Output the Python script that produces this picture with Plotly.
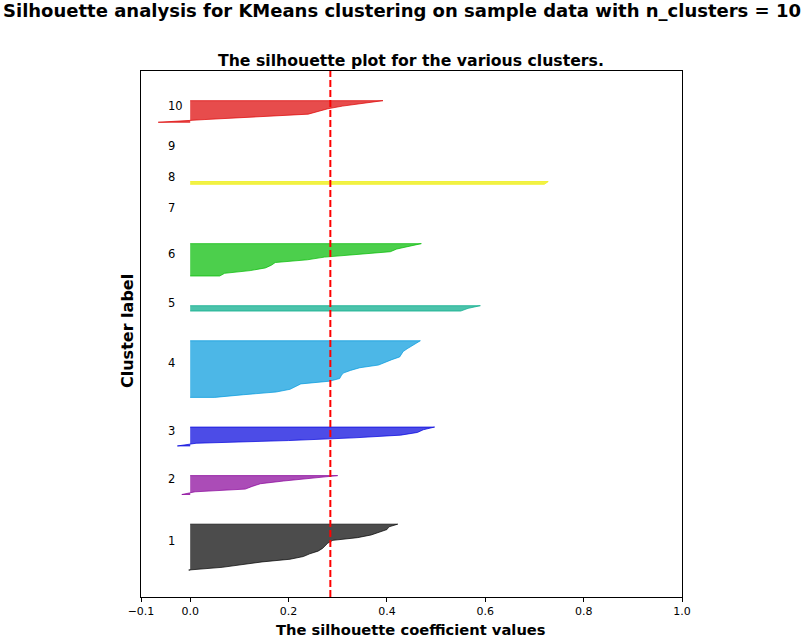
import plotly.graph_objects as go

# ---------------- data ----------------
cluster_labels = ["1", "2", "3", "4", "5", "6", "7", "8", "9", "10"]

sil_c1 = [-0.003, 0.065, 0.108, 0.146, 0.203, 0.23, 0.243, 0.26, 0.269, 0.274,
          0.28, 0.29, 0.34, 0.368, 0.385, 0.40, 0.404, 0.422]
sil_c2 = [-0.017, 0.01, 0.112, 0.126, 0.143, 0.19, 0.24, 0.30]
sil_c3 = [-0.026, 0.012, 0.20, 0.333, 0.428, 0.462, 0.474, 0.497]
sil_c4 = [0.05, 0.109, 0.175, 0.203, 0.214, 0.225, 0.283, 0.304, 0.307, 0.311,
          0.326, 0.345, 0.383, 0.396, 0.41, 0.426, 0.429, 0.433, 0.441, 0.451,
          0.461, 0.468]
sil_c5 = [0.55, 0.565, 0.59]
sil_c6 = [0.06, 0.07, 0.122, 0.153, 0.165, 0.173, 0.238, 0.273, 0.337, 0.407,
          0.42, 0.442, 0.47]
sil_c7 = [0.0]
sil_c8 = [0.72, 0.728]
sil_c9 = [0.0]
sil_c10 = [-0.065, 0.03, 0.135, 0.24, 0.26, 0.28, 0.31, 0.35, 0.392]

silhouette_avg = 0.285

x_tick_vals = [-0.1, 0.0, 0.2, 0.4, 0.6, 0.8, 1.0]
x_tick_text = ["\u22120.1", "0.0", "0.2", "0.4", "0.6", "0.8", "1.0"]

# nipy_spectral colours at i / n_clusters
cluster_colors = [
    (0.0, 0.0, 0.0),
    (0.5333, 0.0, 0.6),
    (0.0, 0.0, 0.8667),
    (0.0, 0.6, 0.8667),
    (0.0, 0.6667, 0.5333),
    (0.0, 0.7333, 0.0),
    (0.0, 1.0, 0.0),
    (0.9333, 0.9333, 0.0),
    (1.0, 0.6, 0.0),
    (0.8667, 0.0, 0.0),
]

all_sil = [sil_c1, sil_c2, sil_c3, sil_c4, sil_c5, sil_c6, sil_c7, sil_c8, sil_c9, sil_c10]

FONT = "DejaVu Sans"

def rgba(c, a):
    return "rgba(%d,%d,%d,%.2f)" % (round(c[0] * 255), round(c[1] * 255), round(c[2] * 255), a)

fig = go.Figure()

n_samples = sum(len(s) for s in all_sil)
n_clusters = len(all_sil)
y_lower = 10
label_pos = []
for i, vals in enumerate(all_sil):
    size = len(vals)
    ys = list(range(y_lower, y_lower + size))
    px = [0.0] + list(vals) + [0.0]
    py = [ys[0]] + ys + [ys[-1]]
    col = cluster_colors[i]
    fig.add_trace(go.Scatter(
        x=px, y=py, mode="lines", fill="toself",
        fillcolor=rgba(col, 0.7),
        line=dict(color=rgba(col, 0.7), width=1),
        hoverinfo="skip", showlegend=False,
    ))
    label_pos.append(y_lower + 0.5 * size)
    y_lower = y_lower + size + 10

for lab, yp in zip(cluster_labels, label_pos):
    fig.add_annotation(x=-0.05, y=yp, xref="x", yref="y", text=lab,
                       showarrow=False, xanchor="left", yanchor="middle",
                       yshift=4.5, font=dict(family=FONT, size=11.5, color="black"))

fig.add_shape(type="line", xref="x", yref="paper",
              x0=silhouette_avg, x1=silhouette_avg, y0=0, y1=1,
              line=dict(color="red", width=2, dash="7px,3px"))

# plot area in page pixels: x 141..682, y 71..597
PH = 526.0
PW = 541.0

fig.add_annotation(xref="paper", yref="paper", x=(402 - 141) / PW, y=1 + (71 - 11) / PH,
                   text="<b>Silhouette analysis for KMeans clustering on sample data with n_clusters = 10</b>",
                   showarrow=False, xanchor="center", yanchor="middle",
                   font=dict(family=FONT, size=18, color="black"))
fig.add_annotation(xref="paper", yref="paper", x=(411 - 141) / PW, y=1 + (71 - 60) / PH,
                   text="<b>The silhouette plot for the various clusters.</b>",
                   showarrow=False, xanchor="center", yanchor="middle",
                   font=dict(family=FONT, size=15.7, color="black"))
fig.add_annotation(xref="paper", yref="paper", x=(411 - 141) / PW, y=(597 - 629) / PH,
                   text="<b>The silhouette coefficient values</b>",
                   showarrow=False, xanchor="center", yanchor="middle",
                   font=dict(family=FONT, size=14.7, color="black"))
fig.add_annotation(xref="paper", yref="paper", x=(127 - 141) / PW, y=(597 - 331) / PH,
                   text="<b>Cluster label</b>", textangle=-90,
                   showarrow=False, xanchor="center", yanchor="middle",
                   font=dict(family=FONT, size=16, color="black"))

fig.update_layout(
    width=806, height=638,
    margin=dict(l=141, r=124, t=71, b=41, autoexpand=False),
    paper_bgcolor="white", plot_bgcolor="white",
    showlegend=False,
    xaxis=dict(range=[-0.1, 1.0], tickvals=x_tick_vals, ticktext=x_tick_text,
               ticks="outside", ticklen=4, tickwidth=1, tickcolor="black",
               showline=True, linecolor="black", linewidth=1, mirror=True,
               showgrid=False, zeroline=False,
               tickfont=dict(family=FONT, size=11, color="black")),
    yaxis=dict(range=[0, n_samples + (n_clusters + 1) * 10],
               showticklabels=False, ticks="",
               showline=True, linecolor="black", linewidth=1, mirror=True,
               showgrid=False, zeroline=False),
)

fig.write_html("out.html", config={"displayModeBar": False},
               post_script="document.body.style.margin='0';")
